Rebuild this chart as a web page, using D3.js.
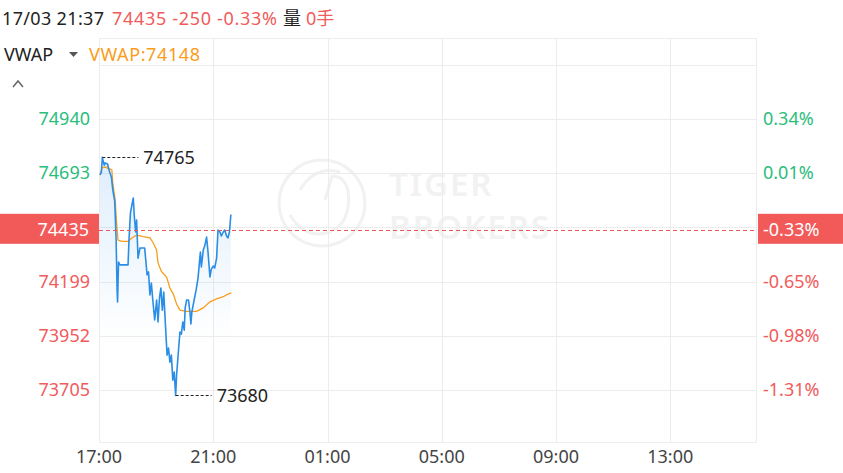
<!DOCTYPE html>
<html>
<head>
<meta charset="utf-8">
<script src="https://cdn.jsdelivr.net/npm/d3@7"></script>
<style>
  body { margin: 0; background: #fff; }
  svg { font-family: "Noto Sans", "Noto Sans CJK SC", sans-serif; }
</style>
</head>
<body>
<div id="chart"></div>
<script>
// minutes after 17:00 and last price
const priceMinutes = [2, 5, 7, 11, 13, 18, 21, 26, 29, 33, 36, 38, 39, 41, 44, 61, 63, 66, 69, 72, 74, 77, 79, 82, 86, 96, 101, 104, 107, 110, 113, 117, 121, 124, 127, 130, 133, 136, 139, 143, 146, 149, 152, 155, 158, 161, 163, 167, 170, 173, 176, 179, 181, 184, 188, 191, 193, 195, 199, 204, 208, 211, 213, 215, 219, 222, 226, 229, 233, 236, 240, 243, 247, 250, 254, 257, 261, 264, 268, 271, 274, 277];
const prices = [74685, 74698, 74765, 74730, 74740, 74735, 74708, 74676, 74616, 74566, 74388, 74161, 74106, 74288, 74275, 74275, 74388, 74512, 74548, 74580, 74502, 74425, 74480, 74306, 74352, 74352, 74229, 74243, 74138, 74192, 74115, 74024, 74115, 74015, 74124, 74170, 74069, 74151, 74024, 73864, 73896, 73832, 73864, 73750, 73787, 73680, 73773, 73887, 73969, 73960, 74015, 73978, 74079, 74115, 74115, 74060, 74006, 74060, 74106, 74161, 74215, 74288, 74334, 74266, 74343, 74361, 74402, 74334, 74220, 74256, 74270, 74261, 74306, 74434, 74425, 74407, 74425, 74434, 74407, 74398, 74425, 74505];

const vwapMinutes = [2, 6, 13, 27, 29, 34, 37, 40, 48, 61, 69, 79, 93, 107, 114, 121, 124, 131, 142, 149, 156, 163, 170, 184, 205, 219, 233, 247, 261, 271, 278];
const vwapValues = [74685, 74717, 74721, 74708, 74648, 74571, 74466, 74388, 74382, 74382, 74398, 74411, 74404, 74398, 74375, 74343, 74284, 74245, 74220, 74170, 74142, 74097, 74069, 74063, 74063, 74079, 74107, 74120, 74130, 74142, 74148];

const prevClose = 74685;
const lastPrice = 74435;
const gridValues = [75187, 74940, 74693, 74446, 74199, 73952, 73705];
const leftTickValues = [74940, 74693, 74199, 73952, 73705];
const rightTickValues = [74940, 74693, 74199, 73952, 73705];
const rightTickLabels = ["0.34%", "0.01%", "-0.65%", "-0.98%", "-1.31%"];
const timeTicks = [0, 240, 480, 720, 960, 1200];
const timeLabels = ["17:00", "21:00", "01:00", "05:00", "09:00", "13:00"];

const width = 843, height = 473;
const chart = { left: 99, right: 756, top: 38, bottom: 442 };
const green = "#2bbd7c", red = "#f15b5b", blue = "#2a8de6", orange = "#f99d1c";

const svg = d3.select("#chart").append("svg")
  .attr("width", width).attr("height", height);

const x = d3.scaleLinear().domain([0, 1380]).range([chart.left, chart.right]);
const y = d3.scaleLinear().domain([73705, 74940]).range([390, 119]);

// watermark
const wm = svg.append("g").attr("fill", "none").attr("stroke", "#f1f1f1").attr("stroke-width", 3);
wm.append("circle").attr("cx", 322).attr("cy", 203).attr("r", 43);
wm.append("path").attr("d", "M290,215 Q305,240 330,232 Q352,222 348,190 Q344,176 332,176 L325,200");
wm.append("path").attr("d", "M300,190 Q315,165 340,172");
svg.append("text").attr("x", 389).attr("y", 196).attr("font-size", 33).attr("font-weight", 600)
  .attr("letter-spacing", 2).attr("fill", "#f2f2f2").text("TIGER");
svg.append("text").attr("x", 389).attr("y", 239).attr("font-size", 33).attr("font-weight", 600)
  .attr("letter-spacing", 2).attr("fill", "#f2f2f2").text("BROKERS");

// grid
const grid = svg.append("g").attr("stroke", "#ececec").attr("stroke-width", 1);
grid.selectAll(".h").data(gridValues).join("line")
  .attr("x1", chart.left).attr("x2", chart.right)
  .attr("y1", d => Math.round(y(d)) + 0.5).attr("y2", d => Math.round(y(d)) + 0.5);
grid.selectAll(".v").data(timeTicks).join("line")
  .attr("x1", d => Math.round(x(d)) + 0.5).attr("x2", d => Math.round(x(d)) + 0.5)
  .attr("y1", chart.top).attr("y2", chart.bottom);
grid.append("rect").attr("x", chart.left + 0.5).attr("y", chart.top + 0.5)
  .attr("width", chart.right - chart.left).attr("height", chart.bottom - chart.top)
  .attr("fill", "none");

// area gradient
const defs = svg.append("defs");
const grad = defs.append("linearGradient").attr("id", "areaGrad")
  .attr("gradientUnits", "userSpaceOnUse")
  .attr("x1", 0).attr("x2", 0).attr("y1", 150).attr("y2", 340);
grad.append("stop").attr("offset", 0).attr("stop-color", "#2a8de6").attr("stop-opacity", 0.16);
grad.append("stop").attr("offset", 1).attr("stop-color", "#2a8de6").attr("stop-opacity", 0);

const priceData = priceMinutes.map((m, i) => ({ m, v: prices[i] }));
const vwapData = vwapMinutes.map((m, i) => ({ m, v: vwapValues[i] }));

svg.append("path").datum(priceData)
  .attr("fill", "url(#areaGrad)")
  .attr("d", d3.area().x(d => x(d.m)).y0(chart.bottom).y1(d => y(d.v)));

svg.append("path").datum(vwapData)
  .attr("fill", "none").attr("stroke", orange).attr("stroke-width", 1.3)
  .attr("d", d3.line().x(d => x(d.m)).y(d => y(d.v)));

svg.append("path").datum(priceData)
  .attr("fill", "none").attr("stroke", blue).attr("stroke-width", 1.6)
  .attr("stroke-linejoin", "round")
  .attr("d", d3.line().x(d => x(d.m)).y(d => y(d.v)));

// last price dashed line
svg.append("line")
  .attr("x1", chart.left).attr("x2", chart.right)
  .attr("y1", Math.round(y(lastPrice)) + 0.5).attr("y2", Math.round(y(lastPrice)) + 0.5)
  .attr("stroke", "#e8555a").attr("stroke-dasharray", "4,3");

// max / min markers
const maxPt = priceData.reduce((a, b) => (b.v > a.v ? b : a));
const minPt = priceData.reduce((a, b) => (b.v < a.v ? b : a));
[maxPt, minPt].forEach(p => {
  const px = x(p.m), py = Math.round(y(p.v)) + 0.5;
  svg.append("line").attr("x1", px).attr("x2", px + 36).attr("y1", py).attr("y2", py)
    .attr("stroke", "#222").attr("stroke-dasharray", "3,2");
  svg.append("text").attr("x", px + 41).attr("y", py + 6).attr("font-size", 18)
    .attr("fill", "#222").text(p.v);
});

// left axis
svg.append("g").selectAll("text").data(leftTickValues).join("text")
  .attr("x", 90).attr("y", d => y(d) + 6).attr("text-anchor", "end")
  .attr("font-size", 18).attr("fill", d => (d > prevClose ? green : red))
  .text(d => d);

// right axis
svg.append("g").selectAll("text").data(rightTickValues).join("text")
  .attr("x", 763).attr("y", d => y(d) + 6)
  .attr("font-size", 18).attr("fill", d => (d > prevClose ? green : red))
  .text((d, i) => rightTickLabels[i]);

// price tags
const tagY = y(lastPrice);
svg.append("rect").attr("x", 0).attr("y", tagY - 16).attr("width", 99).attr("height", 30).attr("fill", "#f25a5a");
svg.append("text").attr("x", 89).attr("y", tagY + 6).attr("text-anchor", "end")
  .attr("font-size", 18).attr("fill", "#fff").text(lastPrice);
svg.append("rect").attr("x", 758).attr("y", tagY - 16).attr("width", 85).attr("height", 30).attr("fill", "#f25a5a");
svg.append("text").attr("x", 763).attr("y", tagY + 6)
  .attr("font-size", 18).attr("fill", "#fff")
  .text(((lastPrice - prevClose) / prevClose * 100).toFixed(2) + "%");

// bottom axis
svg.append("g").selectAll("text").data(timeTicks).join("text")
  .attr("x", d => x(d)).attr("y", 463).attr("text-anchor", "middle")
  .attr("font-size", 18).attr("fill", "#444")
  .text((d, i) => timeLabels[i]);

// header
const header = svg.append("g").attr("font-size", 18);
header.append("text").attr("x", 2).attr("y", 25).attr("fill", "#222")
  .attr("textLength", 102).text("17/03 21:37");
header.append("text").attr("x", 112).attr("y", 25).attr("fill", red).attr("textLength", 165)
  .text(`${lastPrice} ${lastPrice - prevClose} ${((lastPrice - prevClose) / prevClose * 100).toFixed(2)}%`);
header.append("text").attr("x", 283).attr("y", 25).attr("fill", "#222").text("量");
header.append("text").attr("x", 306).attr("y", 25).attr("fill", red).text("0手");

svg.append("text").attr("x", 4).attr("y", 61).attr("font-size", 18).attr("fill", "#222").text("VWAP");
svg.append("path").attr("d", "M69,52 L78,52 L73.5,57 Z").attr("fill", "#555");
svg.append("text").attr("x", 89).attr("y", 61).attr("font-size", 18).attr("fill", orange)
  .attr("textLength", 111).text("VWAP:" + vwapValues[vwapValues.length - 1]);
svg.append("path").attr("d", "M13,87 L18,81 L23,87").attr("fill", "none")
  .attr("stroke", "#666").attr("stroke-width", 1.5);
</script>
</body>
</html>
